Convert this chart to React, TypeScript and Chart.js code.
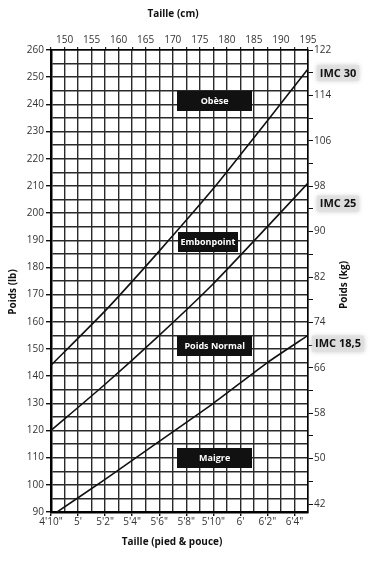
import { useEffect, useRef } from 'react';
import { Chart, registerables } from 'chart.js';

Chart.register(...registerables);

// Heights in inches, and weights (lb)
const heightsIn = [58, 62, 66, 70, 74, 77];
const bmi30Lb = [144, 164, 186, 209, 234, 253];
const bmi25Lb = [120, 137, 155, 174, 195, 211];
const bmi185Lb = [88.5, 102, 116, 130, 145, 155];

// Bottom axis: feet & inches
const ftInTickValues = [58, 60, 62, 64, 66, 68, 70, 72, 74, 76];
const ftInLabels = ["4'10\"", "5'", "5'2\"", "5'4\"", "5'6\"", "5'8\"", "5'10\"", "6'", "6'2\"", "6'4\""];

// Top axis: centimetres
const cmTickValues = [59, 61, 63, 65, 67, 69, 71, 73, 75, 77];
const cmLabels = ['150', '155', '160', '165', '170', '175', '180', '185', '190', '195'];

// Left axis: pounds
const lbMin = 90;
const lbMax = 260;
const lbLabels = [90, 100, 110, 120, 130, 140, 150, 160, 170, 180, 190, 200, 210, 220, 230, 240, 250, 260];

// Right axis: kilograms
const kgMin = 40.6;
const kgMax = 122;
const kgLabels = [42, 50, 58, 66, 74, 82, 90, 98, 106, 114, 122];

// Curve labels
const imcNames = ['IMC 30', 'IMC 25', 'IMC 18,5'];
const imcLabelLb = [251.5, 203.5, 152];

// Zone labels
const zoneNames = ['Obèse', 'Embonpoint', 'Poids Normal', 'Maigre'];
const zoneIn = [70.1, 69.6, 70.1, 70.1];
const zoneLb = [241.2, 189.2, 151.1, 110];
const zoneBoxW = [75, 60, 75, 75];

const FONT = "'Open Sans', 'DejaVu Sans', sans-serif";

const range = (a: number, b: number, s: number) => {
  const out: number[] = [];
  for (let v = a; v <= b + 1e-9; v += s) out.push(v);
  return out;
};

const decorPlugin = {
  id: 'decor',
  afterDatasetsDraw(chart: any) {
    const { ctx, chartArea, scales } = chart;
    const x = scales.x;
    const y = scales.y;
    ctx.save();
    // zone boxes
    zoneNames.forEach((name, i) => {
      const cx = x.getPixelForValue(zoneIn[i]);
      const cy = y.getPixelForValue(zoneLb[i]);
      const w = zoneBoxW[i];
      const h = 20;
      ctx.fillStyle = '#111';
      ctx.fillRect(Math.round(cx - w / 2), Math.round(cy - h / 2), w, h);
      ctx.fillStyle = '#fff';
      ctx.font = `bold 9px ${FONT}`;
      ctx.textAlign = 'center';
      ctx.textBaseline = 'middle';
      ctx.fillText(name, cx, cy + 0.5);
    });
    // IMC labels
    imcNames.forEach((name, i) => {
      const cy = y.getPixelForValue(imcLabelLb[i]);
      const cx = chartArea.right + 30;
      ctx.font = `bold 11px ${FONT}`;
      const tw = ctx.measureText(name).width;
      ctx.save();
      ctx.shadowColor = 'rgba(180,180,180,0.9)';
      ctx.shadowBlur = 5;
      ctx.fillStyle = 'rgba(225,225,225,0.85)';
      ctx.fillRect(cx - tw / 2 - 3, cy - 8, tw + 6, 16);
      ctx.restore();
      ctx.fillStyle = '#111';
      ctx.textAlign = 'center';
      ctx.textBaseline = 'middle';
      ctx.fillText(name, cx, cy + 0.5);
    });
    ctx.restore();
  },
  afterDraw(chart: any) {
    const { ctx } = chart;
    ctx.save();
    ctx.fillStyle = '#111';
    ctx.font = `bold 10px ${FONT}`;
    ctx.textAlign = 'center';
    ctx.textBaseline = 'middle';
    ctx.fillText('Taille (cm)', 173, 14);
    ctx.fillText('Taille (pied & pouce)', 172, 542);
    ctx.save();
    ctx.translate(13, 292);
    ctx.rotate(-Math.PI / 2);
    ctx.fillText('Poids (lb)', 0, 0);
    ctx.restore();
    ctx.save();
    ctx.translate(344, 285);
    ctx.rotate(-Math.PI / 2);
    ctx.fillText('Poids (kg)', 0, 0);
    ctx.restore();
    ctx.restore();
  },
};

export default function App() {
  const ref = useRef<HTMLCanvasElement>(null);

  useEffect(() => {
    document.body.style.margin = '0';
    const canvas = ref.current;
    if (!canvas) return;

    const mkData = (arr: number[]) => heightsIn.map((h, i) => ({ x: h, y: arr[i] }));
    const lineDs = (label: string, arr: number[]) => ({
      label,
      data: mkData(arr),
      borderColor: '#111',
      borderWidth: 1.6,
      pointRadius: 0,
      tension: 0.2,
      fill: false,
    });

    const tickFont = { family: FONT, size: 10 };
    const gridColor = '#2a2a2a';

    const chart = new Chart(canvas, {
      type: 'line',
      data: {
        datasets: [
          lineDs('IMC 30', bmi30Lb),
          lineDs('IMC 25', bmi25Lb),
          lineDs('IMC 18,5', bmi185Lb),
        ],
      },
      plugins: [decorPlugin],
      options: {
        animation: false,
        responsive: true,
        maintainAspectRatio: false,
        layout: { padding: 0 },
        plugins: { legend: { display: false }, tooltip: { enabled: false } },
        scales: {
          x: {
            type: 'linear',
            position: 'bottom',
            min: 58,
            max: 77,
            afterBuildTicks: (axis: any) => {
              axis.ticks = range(58, 77, 1).map((v) => ({ value: v }));
            },
            afterFit: (s: any) => {
              s.height = 51;
            },
            ticks: {
              autoSkip: false,
              maxRotation: 0,
              padding: 0,
              color: '#333',
              font: tickFont,
              callback: (v: any) => {
                const i = ftInTickValues.indexOf(Number(v));
                return i >= 0 ? ftInLabels[i] : '';
              },
            },
            grid: {
              color: gridColor,
              lineWidth: 1.4,
              tickLength: 4,
              tickColor: (c: any) => (ftInTickValues.includes(c.tick?.value) ? '#111' : 'rgba(0,0,0,0)'),
            },
            border: { display: true, color: '#000', width: 2.5 },
          },
          x2: {
            type: 'linear',
            position: 'top',
            min: 58,
            max: 77,
            afterBuildTicks: (axis: any) => {
              axis.ticks = range(58, 77, 1).map((v) => ({ value: v }));
            },
            afterFit: (s: any) => {
              s.height = 50;
            },
            ticks: {
              autoSkip: false,
              maxRotation: 0,
              padding: 1,
              color: '#333',
              font: tickFont,
              callback: (v: any) => {
                const i = cmTickValues.indexOf(Number(v));
                return i >= 0 ? cmLabels[i] : '';
              },
            },
            grid: {
              drawOnChartArea: false,
              tickLength: 3,
              color: gridColor,
              lineWidth: 1.2,
            },
            border: { display: true, color: '#000', width: 1.5 },
          },
          y: {
            type: 'linear',
            position: 'left',
            min: lbMin,
            max: lbMax,
            afterBuildTicks: (axis: any) => {
              axis.ticks = range(lbMin, lbMax, 5).map((v) => ({ value: v }));
            },
            afterFit: (s: any) => {
              s.width = 51;
            },
            ticks: {
              autoSkip: false,
              padding: 2,
              color: '#333',
              font: tickFont,
              callback: (v: any) => (lbLabels.includes(Number(v)) ? String(v) : ''),
            },
            grid: {
              color: gridColor,
              lineWidth: 1.4,
              tickLength: 5,
              tickColor: (c: any) => (lbLabels.includes(c.tick?.value) ? '#111' : 'rgba(0,0,0,0)'),
            },
            border: { display: true, color: '#000', width: 2.5 },
          },
          y2: {
            type: 'linear',
            position: 'right',
            min: kgMin,
            max: kgMax,
            afterBuildTicks: (axis: any) => {
              axis.ticks = range(42, 122, 4).map((v) => ({ value: v }));
            },
            afterFit: (s: any) => {
              s.width = 69;
            },
            ticks: {
              autoSkip: false,
              padding: 1,
              color: '#333',
              font: tickFont,
              callback: (v: any) => (kgLabels.includes(Number(v)) ? String(v) : ''),
            },
            grid: {
              drawOnChartArea: false,
              tickLength: 5,
              color: '#111',
              lineWidth: 1,
            },
            border: { display: true, color: '#000', width: 1.5 },
          },
        },
      },
    } as any);

    return () => chart.destroy();
  }, []);

  return (
    <div style={{ width: 377, height: 563, position: 'relative', background: '#fff' }}>
      <canvas ref={ref} />
    </div>
  );
}
